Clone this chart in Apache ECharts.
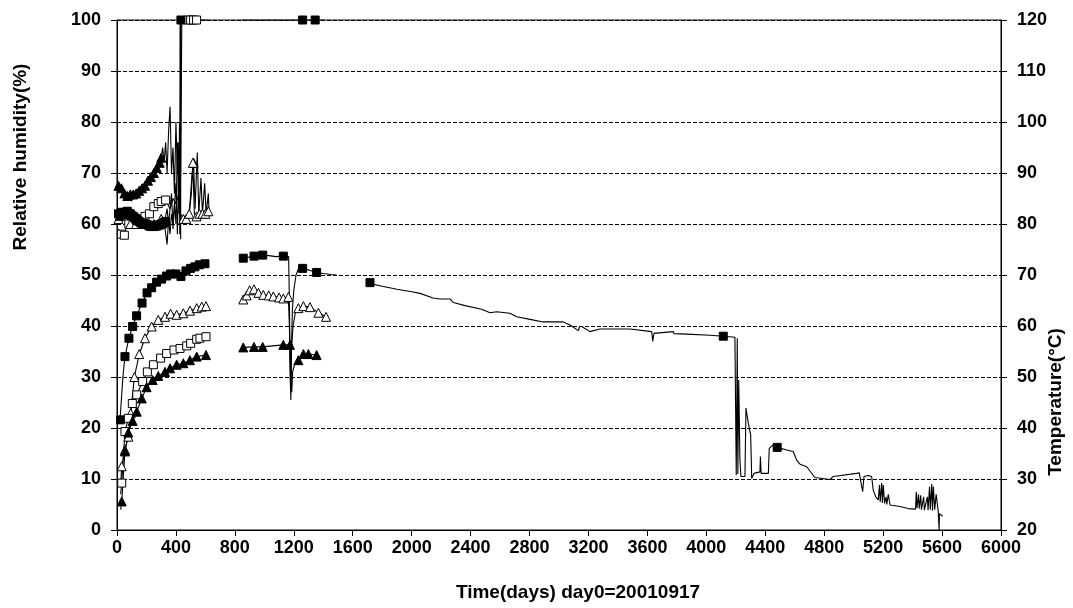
<!DOCTYPE html>
<html><head><meta charset="utf-8">
<script src="https://cdn.jsdelivr.net/npm/echarts@6/dist/echarts.min.js"></script>
<style>html,body{margin:0;padding:0;background:#fff}#c{width:1073px;height:608px}</style>
</head><body><div id="c"></div>
<script>
// ---------- data (days, values; null = gap) ----------
const xTicks = [0,400,800,1200,1600,2000,2400,2800,3200,3600,4000,4400,4800,5200,5600,6000];
const yLeftTicks = [0,10,20,30,40,50,60,70,80,90,100];
const yRightTicks = [20,30,40,50,60,70,80,90,100,110,120];
const titleX = 'Time(days) day0=20010917';
const titleYL = 'Relative humidity(%)';
const titleYR = 'Temperature(°C)';

// long record, filled squares (lower group)
const sqLoDays = [20,25,40,54,81,106,133,170,204,235,269,303,337,364,400,434,468,500,529,559,597,615,700,
  857,930,989,1030,1080,1129,1165,1170,1176,1180,1184,1190,1200,1215,1235,1260,1300,1355,1400,1450,1490,1600,
  1704,1717,1800,1900,2000,2057,2145,2192,2260,2283,2362,2475,2532,2577,2667,2713,2803,2893,3029,3075,3131,3140,3154,3210,3278,3482,3629,3636,3645,3663,3776,3780,3866,4025,4115,4194,
  4200,4203,4210,4214,4220,4228,4235,4262,4269,4285,4301,4308,4323,4330,4364,4367,4372,4421,4427,4454,4481,4545,4590,4613,4636,4681,4737,4839,4862,5020,5038,5061,5070,5099,5122,5133,5150,5167,5175,5180,5190,5195,5201,5210,5220,5225,5235,5247,5314,5370,5420,5425,5430,5440,5445,5455,5460,5475,5480,5500,5505,5515,5520,5530,5535,5541,5550,5560,5574,5580,5582,5604];
const sqLoVals = [21.3,21.6,30,34,37.6,39.9,42,44.5,46.5,47.5,48.6,49.2,49.8,50.2,50.2,49.7,50.8,51.3,51.6,52,52.2,52.4,null,
  53.3,53.7,53.9,53.8,53.6,53.7,53.6,45,30,25.5,35,43,47,50,51.5,51.3,51,50.5,50.3,50.1,50,null,
  48.4,48.5,47.8,47.2,46.7,46.4,45.5,45.3,45.3,44.6,44,43.3,42.6,42.8,42.5,41.8,41.3,40.8,40.8,40.2,39.1,39.9,39.9,38.9,39.4,39.4,38.9,37,38.6,38.6,38.9,38.5,38.4,38.2,38,37.8,
  37.8,10.8,37.6,11,29.4,13.7,10.5,10.5,23.9,20.9,18.6,10.1,11.1,11.4,11.4,14.4,11.1,11.1,16,16.7,16.2,15.7,15.4,13.7,12.9,12.4,10.3,9.9,10.5,11.1,11.2,7.5,10.5,10.7,10.5,7.8,6.5,5.9,8.8,5.5,9.2,5.3,8.8,5.2,6.5,5,7,4.9,4.6,4.2,4.1,7.5,4.3,7,4.2,6.8,4,6.5,3.9,6.5,3.9,8.5,4,9,3.8,8.5,4,7,3.6,0,3.2,2.7];
const sqLoMarkDays = [25,54,81,106,133,170,204,235,269,303,337,364,400,434,468,500,529,559,597,857,930,989,1129,1260,1355,1717,4115,4481];

// hollow triangles (lower group)
const triOpLoDays = [25,32,54,77,93,118,151,190,235,280,326,364,405,450,495,541,575,604,700,
  857,880,900,930,960,993,1030,1061,1100,1129,1163,1170,1178,1185,1195,1210,1231,1265,1310,1367,1419];
const triOpLoVals = [9,12.5,15.7,18.3,22.9,30,34.5,37.6,39.9,41.2,41.8,42.4,42.2,42.5,43,43.5,43.8,43.9,null,
  45.2,46,47,47.2,46.5,46.1,46,45.8,45.6,45.4,45.7,40,28,36,40,42.5,43.5,43.9,43.7,42.6,41.8];
const triOpLoNoMark = [25,1170,1178,1185,1195,1210];

// hollow squares (lower group)
const sqOpLoDays = [25,32,54,77,104,134,174,206,247,296,337,387,428,473,500,541,563,604];
const sqOpLoVals = [7,9.2,19.3,21.9,24.8,26.5,29.1,31,32.4,33.7,34.6,35.3,35.6,36.1,36.6,37.4,37.6,37.9];
const sqOpLoNoMark = [25];

// filled triangles (lower group)
const triLoDays = [25,32,54,77,106,134,168,201,242,280,326,360,405,450,495,541,604,700,
  857,930,989,1129,1174,1180,1186,1192,1205,1231,1265,1299,1355];
const triLoVals = [4,5.6,15.4,19.1,21.4,23.2,25.8,28,29.4,30.2,31,31.7,32.4,32.7,33.3,34,34.3,null,
  35.8,35.9,35.9,36.3,36.3,29,27,31,32.5,33.3,34.5,34.5,34.3];
const triLoNoMark = [25,1180,1186,1192,1205];

// upper group: filled triangles
const triHiDays = [10,30,50,70,90,100,110,130,150,170,190,210,230,250,270,290,300,310,320,330,340,350,360,370,380,390,400,410,420,430,450,470,490,510,520,530,545,555,570,580,595,605,620,625];
const triHiVals = [67.5,67,66,65.5,65.8,64.5,65.8,66,66.5,67,67.5,68.5,69.2,70,71,72,73,75,72,76,70,78,83,70,75,66,80,70,76,62,61,61.5,62,70,72,63,74,62,69,62,68,62,66,62];
const triHiMarkDays = [10,30,50,70,90,110,130,150,170,190,210,230,250,270,290,300,520];

// upper group: hollow squares
const sqOpHiDays = [10,30,50,60,80,100,130,160,190,220,250,280,300,330,360,380,400,420,432,440,480,500,520,540,560];
const sqOpHiVals = [59,58,57.8,59,60,60,60.5,61,61.5,62,63.4,64,64.4,64.7,63,65,64,66,70,100,100,100,100,100,100];
const sqOpHiMarkDays = [30,50,80,130,190,220,250,280,300,330,480,500,520,540];

// upper group: hollow triangles
const triOpHiDays = [10,30,50,70,90,110,130,160,190,220,250,280,300,320,340,350,370,380,400,410,420,430,450,470,490,505,515,525,540,560,580,600,620];
const triOpHiVals = [61,61.5,62,61,60,60.5,60,60.5,60,60.5,60,60.5,61,60,63,60,66,59,68,58,72,60,61,61,62,66,72,62,61.5,62,62,62,62.5];
const triOpHiMarkDays = [10,50,90,130,190,250,300,450,470,490,515,540,560,580,600,620];

// upper group: filled squares
const sqHiDays = [10,20,30,40,50,60,70,80,90,100,110,120,130,140,150,160,170,180,190,200,210,220,230,240,250,260,270,280,290,300,310,320,330,340,350,360,370,380,390,400,410,420,424,426,428,429,430,432,434,500,620,700,850,1260,1345,1400];
const sqHiVals = [62,61.5,62.3,61.8,62,62.3,62.5,62,62,61.6,61.5,61.2,61,60.7,60.5,60.3,60,60.2,60,59.9,59.8,59.6,59.5,59.7,59.5,59.6,59.6,59.8,59.8,60,60,60.3,60.5,56,61,58,62,60,64,60,76,62,80,58,100,60,100,57,100,100,100,null,100,100,100,100];
const sqHiNoMark = [340,350,360,370,380,390,400,410,420,424,426,428,429,430,432,500,620,850,1400];

// ---------- build ----------
const pts = (d, v) => d.map((x, i) => [x, v[i] == null ? '-' : v[i]]);
const markPts = (d, v, keep) => d.map((x, i) => [x, v[i]]).filter(p => p[1] != null && keep(p[0]));
const BLK = '#000';
function line(d, v) {
  return {
    type: 'line', data: pts(d, v), connectNulls: false, showSymbol: false, symbol: 'none',
    lineStyle: { color: BLK, width: 1.1 }, animation: false, z: 3, silent: true
  };
}
function marks(data, symbol, filled) {
  return {
    type: 'scatter', data: data, symbol: symbol, symbolSize: symbol === 'triangle' ? 9 : 8,
    itemStyle: { color: filled ? BLK : '#fff', borderColor: BLK, borderWidth: 1, opacity: 1 },
    animation: false, z: 4, silent: true
  };
}
const inList = l => x => l.includes(x);
const notIn = l => x => !l.includes(x);

const font = 'Liberation Sans, Arial, sans-serif';
const lab = { color: BLK, fontFamily: font, fontWeight: 'bold', fontSize: 18 };

const chart = echarts.init(document.getElementById('c'), null, { renderer: 'canvas' });
chart.setOption({
  backgroundColor: '#fff',
  animation: false,
  grid: { left: 117, right: 72, top: 20, bottom: 78, show: true, borderColor: BLK, borderWidth: 1,
          containLabel: false, outerBoundsMode: 'none' },
  xAxis: {
    type: 'value', min: 0, max: 6000, interval: 400,
    axisLine: { show: true, lineStyle: { color: BLK, width: 1 } },
    axisTick: { show: true, length: 6, lineStyle: { color: BLK } },
    axisLabel: Object.assign({ margin: 9, formatter: v => xTicks.includes(v) ? String(v) : '' }, lab),
    splitLine: { show: false }
  },
  yAxis: [{
    type: 'value', min: 0, max: 100, interval: 10, position: 'left',
    axisLine: { show: true, lineStyle: { color: BLK, width: 1 } },
    axisTick: { show: true, length: 6, lineStyle: { color: BLK } },
    axisLabel: Object.assign({ margin: 16, formatter: v => yLeftTicks.includes(v) ? String(v) : '' }, lab),
    splitLine: { show: true, lineStyle: { color: BLK, type: [4, 2], width: 1 } }
  }, {
    type: 'value', min: 20, max: 120, interval: 10, position: 'right',
    axisLine: { show: true, lineStyle: { color: BLK, width: 1 } },
    axisTick: { show: true, length: 6, lineStyle: { color: BLK } },
    axisLabel: Object.assign({ margin: 16, formatter: v => yRightTicks.includes(v) ? String(v) : '' }, lab),
    splitLine: { show: false }
  }],
  graphic: [
    { type: 'text', x: 578, y: 593, style: { text: titleX, font: 'bold 19px ' + font, fill: BLK,
      align: 'center', verticalAlign: 'middle' } },
    { type: 'text', x: 21, y: 157, rotation: Math.PI / 2, style: { text: titleYL, font: 'bold 19px ' + font, fill: BLK,
      align: 'center', verticalAlign: 'middle' } },
    { type: 'text', x: 1056, y: 402, rotation: Math.PI / 2, style: { text: titleYR, font: 'bold 19px ' + font, fill: BLK,
      align: 'center', verticalAlign: 'middle' } }
  ],
  series: [
    line(sqLoDays, sqLoVals),
    marks(markPts(sqLoDays, sqLoVals, inList(sqLoMarkDays)), 'rect', true),
    line(triOpLoDays, triOpLoVals),
    marks(markPts(triOpLoDays, triOpLoVals, notIn(triOpLoNoMark)), 'triangle', false),
    line(sqOpLoDays, sqOpLoVals),
    marks(markPts(sqOpLoDays, sqOpLoVals, notIn(sqOpLoNoMark)), 'rect', false),
    line(triLoDays, triLoVals),
    marks(markPts(triLoDays, triLoVals, notIn(triLoNoMark)), 'triangle', true),
    line(triHiDays, triHiVals),
    marks(markPts(triHiDays, triHiVals, inList(triHiMarkDays)), 'triangle', true),
    line(sqOpHiDays, sqOpHiVals),
    marks(markPts(sqOpHiDays, sqOpHiVals, inList(sqOpHiMarkDays)), 'rect', false),
    line(triOpHiDays, triOpHiVals),
    marks(markPts(triOpHiDays, triOpHiVals, inList(triOpHiMarkDays)), 'triangle', false),
    line(sqHiDays, sqHiVals),
    marks(markPts(sqHiDays, sqHiVals, notIn(sqHiNoMark)), 'rect', true)
  ]
});
</script></body></html>
